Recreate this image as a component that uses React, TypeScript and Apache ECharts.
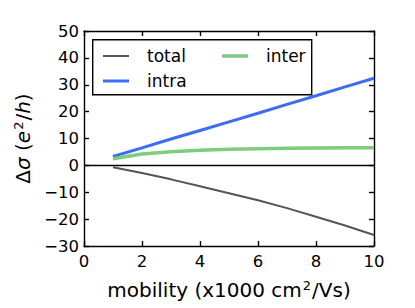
import React, { useEffect, useRef } from "react";
import * as echarts from "echarts";

const mobility = [1, 2, 3, 4, 5, 6, 7, 8, 9, 10];
const totalValues = [-0.7, -2.8, -5.2, -7.8, -10.4, -13.0, -15.9, -19.1, -22.4, -25.9];
const intraValues = [3.3, 6.5, 9.8, 13.0, 16.2, 19.4, 22.7, 25.9, 29.2, 32.4];
const interValues = [2.5, 4.2, 5.1, 5.6, 6.0, 6.2, 6.35, 6.45, 6.55, 6.6];
const seriesNames = ["total", "intra", "inter"];

const FONT = "DejaVu Sans";
const AXIS_COLOR = "#000";
const LW = 1.4;
const COLORS = ["#555555", "#3a6cf7", "#7fcc7f"];
const WIDTHS = [2, 3, 3.5];

const pairs = (ys: number[]) => mobility.map((x, i) => [x, ys[i]]);

export default function App() {
  const ref = useRef<HTMLDivElement>(null);
  useEffect(() => {
    if (!ref.current) return;
    const chart = echarts.init(ref.current, null, { renderer: "svg" });
    const axisLine = { show: true, onZero: false, lineStyle: { color: AXIS_COLOR, width: LW } };
    const axisTick = { show: true, inside: true, length: 5, lineStyle: { color: AXIS_COLOR, width: LW } };
    const labelStyle = { fontFamily: FONT, fontSize: 16.5, color: "#000" };
    const minusFmt = (v: number) => String(v).replace("-", "\u2212");
    const rich = {
      n: { fontFamily: FONT, fontSize: 20, color: "#000" },
      i: { fontFamily: FONT, fontSize: 20, fontStyle: "italic", color: "#000" },
      s: { fontFamily: FONT, fontSize: 13, color: "#000", padding: [0, 1, 9, 1] },
    };
    const legendPos = [
      { left: 103, cy: 53 },
      { left: 103, cy: 78 },
      { left: 222, cy: 53 },
    ];
    const legends = seriesNames.map((name, i) => ({
      data: [{ name, icon: "rect" }],
      left: legendPos[i].left,
      top: legendPos[i].cy - 7,
      height: 20,
      itemWidth: 26,
      itemHeight: WIDTHS[i],
      padding: 0,
      z: 6,
      textStyle: { fontFamily: FONT, fontSize: 17, color: "#000", padding: [0, 0, 0, 13], lineHeight: 20 },
    }));
    chart.setOption({
      animation: false,
      backgroundColor: "#fff",
      grid: { left: 84, right: 41, top: 31, bottom: 62, containLabel: false },
      xAxis: [
        {
          type: "value", min: 0, max: 10, interval: 2, position: "bottom",
          axisLine, axisTick, splitLine: { show: false },
          axisLabel: { ...labelStyle, margin: 7, formatter: minusFmt },
          name: "{n|mobility (x1000 cm}{s|2}{n|/Vs)}",
          nameLocation: "middle", nameGap: 33,
          nameTextStyle: { rich },
        },
        {
          type: "value", min: 0, max: 10, interval: 2, position: "top",
          axisLine, axisTick, splitLine: { show: false }, axisLabel: { show: false },
        },
      ],
      yAxis: [
        {
          type: "value", min: -30, max: 50, interval: 10, position: "left",
          axisLine, axisTick, splitLine: { show: false },
          axisLabel: { ...labelStyle, margin: 5, formatter: minusFmt },
          name: "{n|\u0394}{i|\u03c3}{n| (}{i|e}{s|2}{n|/}{i|h}{n|)}",
          nameLocation: "middle", nameGap: 46, nameRotate: 90,
          nameTextStyle: { rich },
        },
        {
          type: "value", min: -30, max: 50, interval: 10, position: "right",
          axisLine, axisTick, splitLine: { show: false }, axisLabel: { show: false },
        },
      ],
      legend: legends,
      graphic: [
        {
          type: "rect", z: 5, left: 92, top: 39,
          shape: { width: 219, height: 55 },
          style: { fill: "#fff", stroke: "#000", lineWidth: LW },
        },
      ],
      series: [
        {
          name: seriesNames[0], type: "line", data: pairs(totalValues), symbol: "none",
          lineStyle: { color: COLORS[0], width: WIDTHS[0] }, itemStyle: { color: COLORS[0] },
          markLine: {
            silent: true, symbol: ["none", "none"], label: { show: false },
            lineStyle: { color: "#000", width: LW, type: "solid" },
            data: [{ yAxis: 0 }],
          },
        },
        {
          name: seriesNames[1], type: "line", data: pairs(intraValues), symbol: "none",
          lineStyle: { color: COLORS[1], width: WIDTHS[1] }, itemStyle: { color: COLORS[1] },
        },
        {
          name: seriesNames[2], type: "line", data: pairs(interValues), symbol: "none",
          lineStyle: { color: COLORS[2], width: WIDTHS[2] }, itemStyle: { color: COLORS[2] },
        },
      ],
    });
    return () => chart.dispose();
  }, []);
  return (
    <div
      ref={ref}
      style={{ position: "fixed", left: 0, top: 0, width: 415, height: 308 }}
    />
  );
}
